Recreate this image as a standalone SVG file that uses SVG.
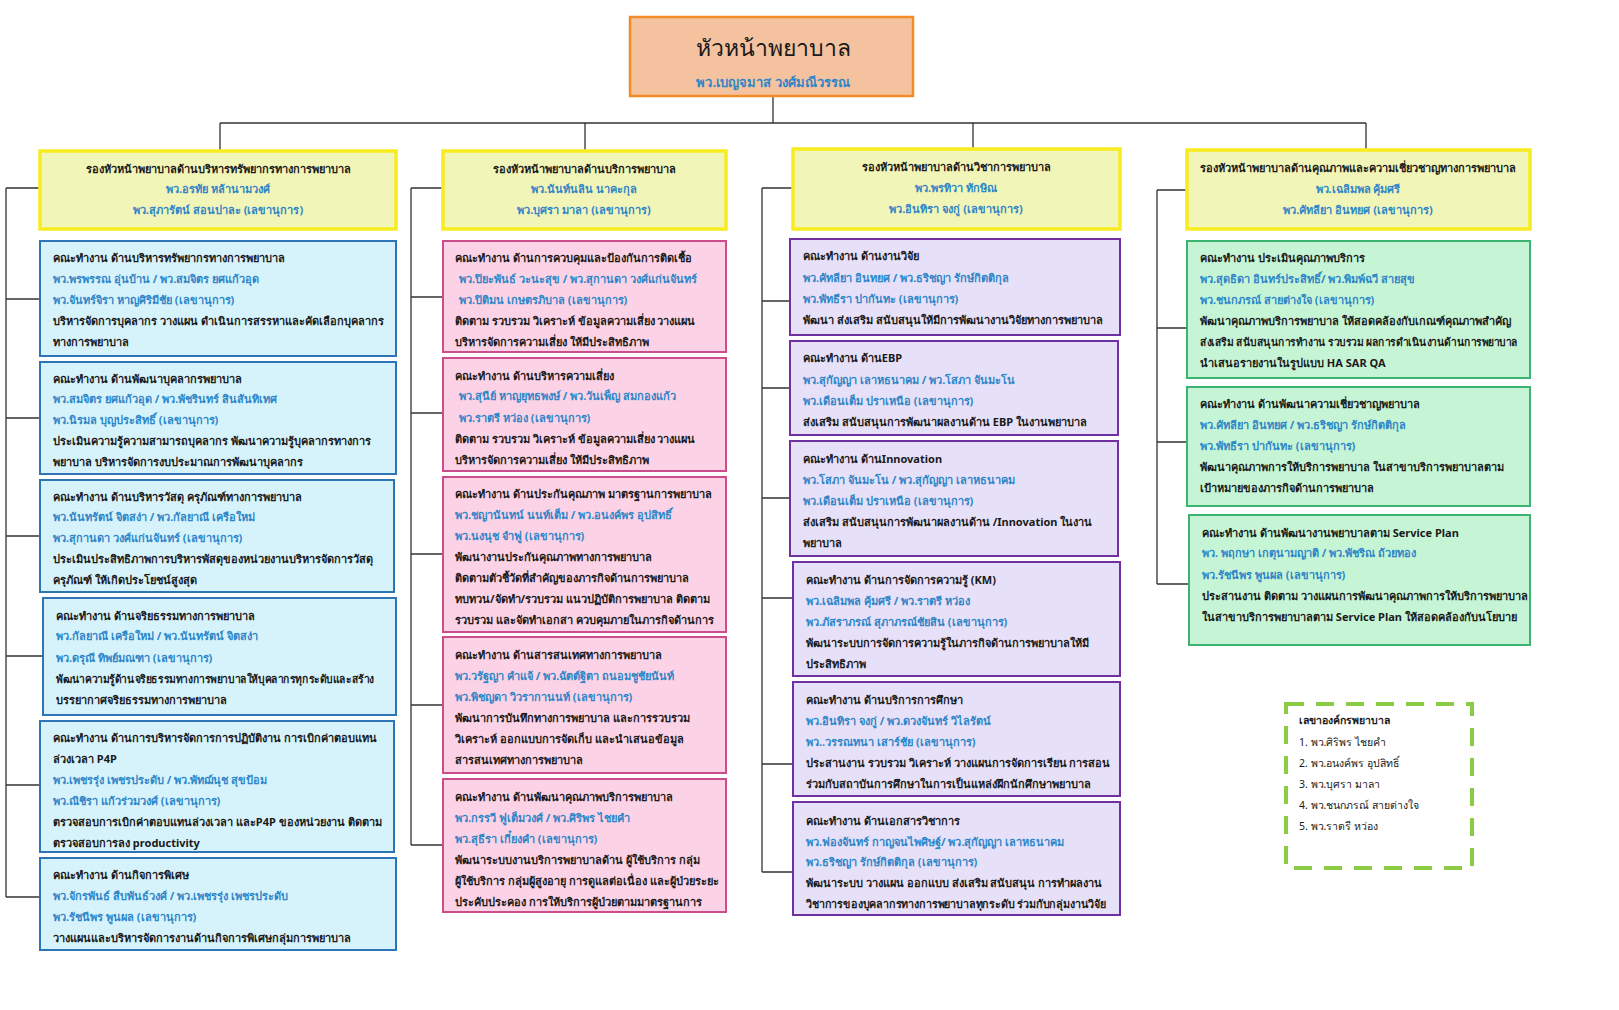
<svg xmlns="http://www.w3.org/2000/svg" width="1619" height="1010" viewBox="0 0 1619 1010">
<style>
text{font-family:"Noto Sans","DejaVu Sans",sans-serif;font-size:11px;font-weight:bold;fill:#1a1a1a}
.b{fill:#2e86c8}
.c{text-anchor:middle}
.hd{fill:#f2f5b8;stroke:#f7ec1f;stroke-width:3.5}
.bl{fill:#d6f3fc;stroke:#2e75b6;stroke-width:2}
.pk{fill:#fcd3e6;stroke:#cc4c8c;stroke-width:2}
.pu{fill:#e6e0f8;stroke:#7030a0;stroke-width:2}
.gr{fill:#c6f5d6;stroke:#3cb371;stroke-width:2}
.ln{stroke:#333;stroke-width:1.3;fill:none}
</style>
<rect width="1619" height="1010" fill="#fff"/>
<g id="connectors">
<path class="ln" d="M773 96V123M220 123H1366M220 123V151M585 123V151M973 123V149M1366 123V150"/>
<path class="ln" d="M6 188V897M6 188H40M6 299H40M6 418H40M6 536H40M6 656H43M6 785H40M6 897H40"/>
<path class="ln" d="M411 188V845M411 188H443M411 297H443M411 413H443M411 554H443M411 705H443M411 845H443"/>
<path class="ln" d="M762 188V872M762 188H793M762 301H790M762 388H790M762 498H790M762 598H793M762 764H793M762 872H793"/>
<path class="ln" d="M1157 190V584M1157 190H1187M1157 328H1187M1157 442H1187M1157 584H1189"/>
</g>
<g id="head"><rect x="630" y="17" width="283" height="79" fill="#f4c29f" stroke="#f28c28" stroke-width="2.5"/>
<text x="773" y="56" class="c" style="font-size:23px;font-weight:normal">หัวหน้าพยาบาล</text>
<text x="773" y="87" class="c b" style="font-size:13px">พว.เบญจมาส วงศ์มณีวรรณ</text></g>
<g id="h1"><rect class="hd" x="40" y="151" width="356" height="78"/>
<text x="218" y="173" class="c">รองหัวหน้าพยาบาลด้านบริหารทรัพยากรทางการพยาบาล</text>
<text x="218" y="193" class="c b">พว.อรทัย หล้านามวงศ์</text>
<text x="218" y="214" class="c b">พว.สุภารัตน์ สอนปาละ (เลขานุการ)</text></g>
<g id="h2"><rect class="hd" x="443" y="151" width="283" height="78"/>
<text x="584" y="173" class="c">รองหัวหน้าพยาบาลด้านบริการพยาบาล</text>
<text x="584" y="193" class="c b">พว.นันท์นลิน นาคะกุล</text>
<text x="584" y="214" class="c b">พว.บุศรา มาลา (เลขานุการ)</text></g>
<g id="h3"><rect class="hd" x="793" y="149" width="327" height="80"/>
<text x="956" y="171" class="c">รองหัวหน้าพยาบาลด้านวิชาการพยาบาล</text>
<text x="956" y="192" class="c b">พว.พรทิวา ทักษิณ</text>
<text x="956" y="213" class="c b">พว.อินทิรา จงกู่ (เลขานุการ)</text></g>
<g id="h4"><rect class="hd" x="1187" y="150" width="343" height="79"/>
<text x="1358" y="172" class="c">รองหัวหน้าพยาบาลด้านคุณภาพและความเชี่ยวชาญทางการพยาบาล</text>
<text x="1358" y="193" class="c b">พว.เฉลิมพล คุ้มศรี</text>
<text x="1358" y="214" class="c b">พว.คัทลียา อินทยศ (เลขานุการ)</text></g>

<g id="c1a"><rect class="bl" x="40" y="241" width="356" height="115"/>
<text x="53" y="262">คณะทำงาน ด้านบริหารทรัพยากรทางการพยาบาล</text>
<text x="53" y="283" class="b">พว.พรพรรณ อุ่นบ้าน / พว.สมจิตร ยศแก้วอุด</text>
<text x="53" y="304" class="b">พว.จันทร์จิรา หาญศิริมีชัย  (เลขานุการ)</text>
<text x="53" y="325">บริหารจัดการบุคลากร วางแผน ดำเนินการสรรหาและคัดเลือกบุคลากร</text>
<text x="53" y="346">ทางการพยาบาล</text></g>
<g id="c1b"><rect class="bl" x="40" y="362" width="356" height="112"/>
<text x="53" y="383">คณะทำงาน ด้านพัฒนาบุคลากรพยาบาล</text>
<text x="53" y="403" class="b">พว.สมจิตร  ยศแก้วอุด / พว.พัชรินทร์ สินสันทิเทศ</text>
<text x="53" y="424" class="b">พว.นิรมล บุญประสิทธิ์ (เลขานุการ)</text>
<text x="53" y="445">ประเมินความรู้ความสามารถบุคลากร พัฒนาความรู้บุคลากรทางการ</text>
<text x="53" y="466">พยาบาล บริหารจัดการงบประมาณการพัฒนาบุคลากร</text></g>
<g id="c1c"><rect class="bl" x="40" y="480" width="354" height="112"/>
<text x="53" y="501">คณะทำงาน ด้านบริหารวัสดุ ครุภัณฑ์ทางการพยาบาล</text>
<text x="53" y="521" class="b">พว.นันทรัตน์  จิตสง่า / พว.กัลยาณี  เครือใหม่</text>
<text x="53" y="542" class="b">พว.สุกานดา วงศ์แก่นจันทร์  (เลขานุการ)</text>
<text x="53" y="563">ประเมินประสิทธิภาพการบริหารพัสดุของหน่วยงานบริหารจัดการวัสดุ</text>
<text x="53" y="584">ครุภัณฑ์ ให้เกิดประโยชน์สูงสุด</text></g>
<g id="c1d"><rect class="bl" x="43" y="598" width="353" height="117"/>
<text x="56" y="620">คณะทำงาน ด้านจริยธรรมทางการพยาบาล</text>
<text x="56" y="640" class="b">พว.กัลยาณี เครือใหม่ / พว.นันทรัตน์  จิตสง่า</text>
<text x="56" y="662" class="b">พว.ดรุณี  ทิพย์มณฑา (เลขานุการ)</text>
<text x="56" y="683" textLength="318" lengthAdjust="spacingAndGlyphs">พัฒนาความรู้ด้านจริยธรรมทางการพยาบาลให้บุคลากรทุกระดับและสร้าง</text>
<text x="56" y="704">บรรยากาศจริยธรรมทางการพยาบาล</text></g>
<g id="c1e"><rect class="bl" x="40" y="721" width="354" height="131"/>
<text x="53" y="742">คณะทำงาน ด้านการบริหารจัดการการปฏิบัติงาน การเบิกค่าตอบแทน</text>
<text x="53" y="763">ล่วงเวลา P4P</text>
<text x="53" y="784" class="b">พว.เพชรรุ่ง เพชรประดับ / พว.พัทฌ์นุช สุขป้อม</text>
<text x="53" y="805" class="b">พว.ณิชิรา แก้วร่วมวงศ์  (เลขานุการ)</text>
<text x="53" y="826">ตรวจสอบการเบิกค่าตอบแทนล่วงเวลา และP4P ของหน่วยงาน ติดตาม</text>
<text x="53" y="847">ตรวจสอบการลง productivity</text></g>
<g id="c1f"><rect class="bl" x="40" y="858" width="356" height="92"/>
<text x="53" y="879">คณะทำงาน ด้านกิจการพิเศษ</text>
<text x="53" y="900" class="b">พว.จักรพันธ์ สืบพันธ์วงศ์ / พว.เพชรรุ่ง เพชรประดับ</text>
<text x="53" y="921" class="b">พว.รัชนีพร พูนผล (เลขานุการ)</text>
<text x="53" y="942">วางแผนและบริหารจัดการงานด้านกิจการพิเศษกลุ่มการพยาบาล</text></g>

<g id="c2a"><rect class="pk" x="443" y="241" width="283" height="111"/>
<text x="455" y="262">คณะทำงาน ด้านการควบคุมและป้องกันการติดเชื้อ</text>
<text x="459" y="283" class="b">พว.ปิยะพันธ์ วะนะสุข / พว.สุกานดา วงศ์แก่นจันทร์</text>
<text x="459" y="304" class="b">พว.ปิติมน เกษตรภิบาล (เลขานุการ)</text>
<text x="455" y="325">ติดตาม รวบรวม วิเคราะห์ ข้อมูลความเสี่ยง วางแผน</text>
<text x="455" y="346">บริหารจัดการความเสี่ยง ให้มีประสิทธิภาพ</text></g>
<g id="c2b"><rect class="pk" x="443" y="358" width="283" height="113"/>
<text x="455" y="380">คณะทำงาน ด้านบริหารความเสี่ยง</text>
<text x="459" y="400" class="b">พว.สุนีย์ หาญยุทธพงษ์ / พว.วันเพ็ญ สมกองแก้ว</text>
<text x="459" y="422" class="b">พว.ราตรี หว่อง (เลขานุการ)</text>
<text x="455" y="443">ติดตาม รวบรวม วิเคราะห์ ข้อมูลความเสี่ยง วางแผน</text>
<text x="455" y="464">บริหารจัดการความเสี่ยง ให้มีประสิทธิภาพ</text></g>
<g id="c2c"><rect class="pk" x="443" y="477" width="283" height="155"/>
<text x="455" y="498">คณะทำงาน ด้านประกันคุณภาพ มาตรฐานการพยาบาล</text>
<text x="455" y="519" class="b">พว.ชญานันทน์ นนท์เต็ม / พว.อนงค์พร อุปสิทธิ์</text>
<text x="455" y="540" class="b">พว.นงนุช จำฟู (เลขานุการ)</text>
<text x="455" y="561">พัฒนางานประกันคุณภาพทางการพยาบาล</text>
<text x="455" y="582">ติดตามตัวชี้วัดที่สำคัญของภารกิจด้านการพยาบาล</text>
<text x="455" y="603">ทบทวน/จัดทำ/รวบรวม แนวปฏิบัติการพยาบาล ติดตาม</text>
<text x="455" y="624">รวบรวม และจัดทำเอกสา ควบคุมภายในภารกิจด้านการ</text></g>
<g id="c2d"><rect class="pk" x="443" y="637" width="283" height="136"/>
<text x="455" y="659">คณะทำงาน ด้านสารสนเทศทางการพยาบาล</text>
<text x="455" y="680" class="b">พว.วรัฐญา คำแจ้ / พว.ฉัตต์ฐิตา ถนอมชูชัยนันท์</text>
<text x="455" y="701" class="b">พว.พิชญดา วิวรากานนท์ (เลขานุการ)</text>
<text x="455" y="722">พัฒนาการบันทึกทางการพยาบาล และการรวบรวม</text>
<text x="455" y="743">วิเคราะห์ ออกแบบการจัดเก็บ และนำเสนอข้อมูล</text>
<text x="455" y="764">สารสนเทศทางการพยาบาล</text></g>
<g id="c2e"><rect class="pk" x="443" y="779" width="283" height="133"/>
<text x="455" y="801">คณะทำงาน ด้านพัฒนาคุณภาพบริการพยาบาล</text>
<text x="455" y="822" class="b">พว.กรรวี ฟูเต็มวงศ์ / พว.ศิริพร ไชยคำ</text>
<text x="455" y="843" class="b">พว.สุธีรา เกี๋ยงคำ (เลขานุการ)</text>
<text x="455" y="864">พัฒนาระบบงานบริการพยาบาลด้าน ผู้ใช้บริการ กลุ่ม</text>
<text x="455" y="885">ผู้ใช้บริการ กลุ่มผู้สูงอายุ การดูแลต่อเนื่อง และผู้ป่วยระยะ</text>
<text x="455" y="906">ประคับประคอง การให้บริการผู้ป่วยตามมาตรฐานการ</text></g>

<g id="c3a"><rect class="pu" x="790" y="239" width="330" height="96"/>
<text x="803" y="260">คณะทำงาน ด้านงานวิจัย</text>
<text x="803" y="282" class="b">พว.คัทลียา อินทยศ / พว.ธริชญา รักษ์กิตติกุล</text>
<text x="803" y="303" class="b">พว.พัทธีรา ปากันทะ  (เลขานุการ)</text>
<text x="803" y="324">พัฒนา ส่งเสริม สนับสนุนให้มีการพัฒนางานวิจัยทางการพยาบาล</text></g>
<g id="c3b"><rect class="pu" x="790" y="341" width="328" height="94"/>
<text x="803" y="362">คณะทำงาน ด้านEBP</text>
<text x="803" y="384" class="b">พว.สุกัญญา เลาหธนาคม / พว.โสภา จันมะโน</text>
<text x="803" y="405" class="b">พว.เดือนเต็ม  ปราเหนือ  (เลขานุการ)</text>
<text x="803" y="426">ส่งเสริม สนับสนุนการพัฒนาผลงานด้าน EBP ในงานพยาบาล</text></g>
<g id="c3c"><rect class="pu" x="790" y="441" width="328" height="115"/>
<text x="803" y="463">คณะทำงาน ด้านInnovation</text>
<text x="803" y="484" class="b">พว.โสภา จันมะโน / พว.สุกัญญา เลาหธนาคม</text>
<text x="803" y="505" class="b">พว.เดือนเต็ม ปราเหนือ  (เลขานุการ)</text>
<text x="803" y="526">ส่งเสริม สนับสนุนการพัฒนาผลงานด้าน /Innovation ในงาน</text>
<text x="803" y="547">พยาบาล</text></g>
<g id="c3d"><rect class="pu" x="793" y="562" width="327" height="114"/>
<text x="806" y="584">คณะทำงาน ด้านการจัดการความรู้ (KM)</text>
<text x="806" y="605" class="b">พว.เฉลิมพล คุ้มศรี / พว.ราตรี หว่อง</text>
<text x="806" y="626" class="b">พว.ภัสราภรณ์ สุภาภรณ์ชัยสิน (เลขานุการ)</text>
<text x="806" y="647">พัฒนาระบบการจัดการความรู้ในภารกิจด้านการพยาบาลให้มี</text>
<text x="806" y="668">ประสิทธิภาพ</text></g>
<g id="c3e"><rect class="pu" x="793" y="682" width="327" height="114"/>
<text x="806" y="704">คณะทำงาน ด้านบริการการศึกษา</text>
<text x="806" y="725" class="b">พว.อินทิรา จงกู่ / พว.ดวงจันทร์ วิไลรัตน์</text>
<text x="806" y="746" class="b">พว..วรรณทนา เสาร์ชัย (เลขานุการ)</text>
<text x="806" y="767">ประสานงาน รวบรวม วิเคราะห์ วางแผนการจัดการเรียน การสอน</text>
<text x="806" y="788">ร่วมกับสถาบันการศึกษาในการเป็นแหล่งฝึกนักศึกษาพยาบาล</text></g>
<g id="c3f"><rect class="pu" x="793" y="802" width="327" height="113"/>
<text x="806" y="825">คณะทำงาน ด้านเอกสารวิชาการ</text>
<text x="806" y="846" class="b">พว.ฟองจันทร์ กาญจนไพศิษฐ์/ พว.สุกัญญา เลาหธนาคม</text>
<text x="806" y="866" class="b">พว.ธริชญา รักษ์กิตติกุล (เลขานุการ)</text>
<text x="806" y="887">พัฒนาระบบ วางแผน ออกแบบ ส่งเสริม สนับสนุน การทำผลงาน</text>
<text x="806" y="908" textLength="300" lengthAdjust="spacingAndGlyphs">วิชาการของบุคลากรทางการพยาบาลทุกระดับ ร่วมกับกลุ่มงานวิจัย</text></g>

<g id="c4a"><rect class="gr" x="1187" y="241" width="343" height="137"/>
<text x="1200" y="262">คณะทำงาน ประเมินคุณภาพบริการ</text>
<text x="1200" y="283" class="b">พว.สุดธิดา อินทร์ประสิทธิ์/ พว.พิมพ์ฉวี สายสุข</text>
<text x="1200" y="304" class="b">พว.ชนกภรณ์ สายต่างใจ (เลขานุการ)</text>
<text x="1200" y="325">พัฒนาคุณภาพบริการพยาบาล ให้สอดคล้องกับเกณฑ์คุณภาพสำคัญ</text>
<text x="1200" y="346" textLength="318" lengthAdjust="spacingAndGlyphs">ส่งเสริม สนับสนุนการทำงาน รวบรวม ผลการดำเนินงานด้านการพยาบาล</text>
<text x="1200" y="367">นำเสนอรายงานในรูปแบบ HA SAR QA</text></g>
<g id="c4b"><rect class="gr" x="1187" y="387" width="343" height="119"/>
<text x="1200" y="408">คณะทำงาน ด้านพัฒนาความเชี่ยวชาญพยาบาล</text>
<text x="1200" y="429" class="b">พว.คัทลียา อินทยศ / พว.ธริชญา รักษ์กิตติกุล</text>
<text x="1200" y="450" class="b">พว.พัทธีรา ปากันทะ (เลขานุการ)</text>
<text x="1200" y="471">พัฒนาคุณภาพการให้บริการพยาบาล ในสาขาบริการพยาบาลตาม</text>
<text x="1200" y="492">เป้าหมายของภารกิจด้านการพยาบาล</text></g>
<g id="c4c"><rect class="gr" x="1189" y="515" width="341" height="130"/>
<text x="1202" y="537">คณะทำงาน ด้านพัฒนางานพยาบาลตาม Service Plan</text>
<text x="1202" y="557" class="b">พว. พฤกษา เกตุนามญาติ / พว.พัชริณ ถ้วยทอง</text>
<text x="1202" y="579" class="b">พว.รัชนีพร พูนผล (เลขานุการ)</text>
<text x="1202" y="600">ประสานงาน ติดตาม วางแผนการพัฒนาคุณภาพการให้บริการพยาบาล</text>
<text x="1202" y="621">ในสาขาบริการพยาบาลตาม Service Plan ให้สอดคล้องกับนโยบาย</text></g>

<g id="legend"><rect x="1286" y="704" width="186" height="164" fill="none" stroke="#8ccc44" stroke-width="4" stroke-dasharray="18 12"/>
<text x="1299" y="724" style="font-size:10.5px">เลขาองค์กรพยาบาล</text>
<text x="1299" y="746" style="font-size:10.5px;font-weight:normal">1. พว.ศิริพร ไชยคำ</text>
<text x="1299" y="767" style="font-size:10.5px;font-weight:normal">2. พว.อนงค์พร อุปสิทธิ์</text>
<text x="1299" y="788" style="font-size:10.5px;font-weight:normal">3. พว.บุศรา มาลา</text>
<text x="1299" y="809" style="font-size:10.5px;font-weight:normal">4. พว.ชนกภรณ์ สายต่างใจ</text>
<text x="1299" y="830" style="font-size:10.5px;font-weight:normal">5. พว.ราตรี  หว่อง</text></g>
</svg>
